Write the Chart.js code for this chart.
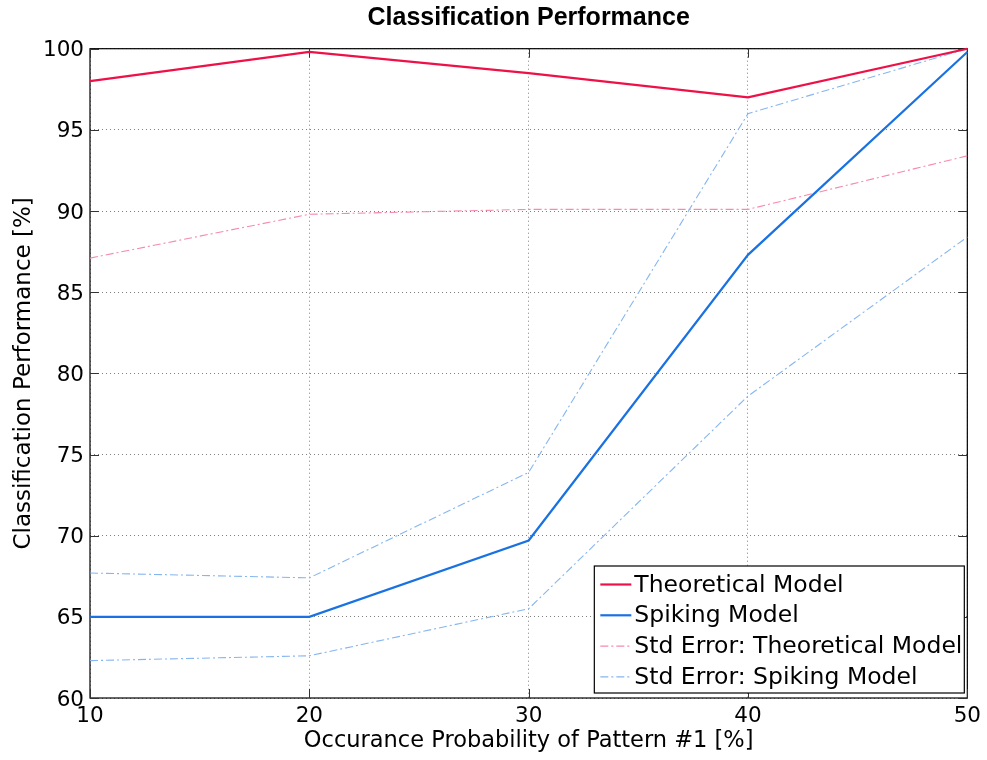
<!DOCTYPE html>
<html>
<head>
<meta charset="utf-8">
<script src="https://cdn.jsdelivr.net/npm/chart.js@4/dist/chart.umd.min.js"></script>
<style>
  html, body { margin: 0; padding: 0; background: #fff; }
  #wrap { width: 987px; height: 760px; position: relative; }
</style>
</head>
<body>
<div id="wrap"><canvas id="c" width="987" height="760"></canvas></div>
<script>
// ---- Data ----
const occurrence = [10, 20, 30, 40, 50];
const theoretical = [98.0, 99.8, 98.5, 97.0, 100.0];
const spiking = [65.0, 65.0, 69.7, 87.3, 99.8];
const stdErrTheoretical = [87.1, 89.8, 90.1, 90.1, 93.4];
const stdErrSpikingUpper = [67.7, 67.4, 73.9, 96.0, 100.0];
const stdErrSpikingLower = [62.3, 62.6, 65.5, 78.6, 88.4];
const xTicks = [10, 20, 30, 40, 50];
const yTicks = [60, 65, 70, 75, 80, 85, 90, 95, 100];

const seriesLabels = ['Theoretical Model', 'Spiking Model', 'Std Error: Theoretical Model', 'Std Error: Spiking Model'];

const RED = '#ee1148';
const BLUE = '#1a72e2';
const PINK = '#f58aab';
const LBLUE = '#86b6f0';
const DASHDOT = [8, 3, 2, 3];

function pts(ys) { return occurrence.map((x, i) => ({ x: x, y: ys[i] })); }

const datasets = [
  { label: seriesLabels[0], data: pts(theoretical), borderColor: RED, borderWidth: 2.2, inLegend: true },
  { label: seriesLabels[1], data: pts(spiking), borderColor: BLUE, borderWidth: 2.2, inLegend: true },
  { label: seriesLabels[2], data: pts(stdErrTheoretical), borderColor: PINK, borderWidth: 1.1, borderDash: DASHDOT, inLegend: true },
  { label: seriesLabels[3], data: pts(stdErrSpikingUpper), borderColor: LBLUE, borderWidth: 1.1, borderDash: DASHDOT, inLegend: true },
  { label: seriesLabels[3] + ' (lower)', data: pts(stdErrSpikingLower), borderColor: LBLUE, borderWidth: 1.1, borderDash: DASHDOT, inLegend: false }
].map(d => Object.assign({ pointRadius: 0, pointHoverRadius: 0, fill: false, tension: 0, clip: 4 }, d));

const FONT = "'DejaVu Sans', sans-serif";

const framePlugin = {
  id: 'frame',
  beforeDatasetsDraw(chart) {
    const { ctx, chartArea: a, scales } = chart;
    ctx.save();
    ctx.strokeStyle = '#000';
    ctx.lineWidth = 1.2;
    ctx.strokeRect(a.left, a.top, a.right - a.left, a.bottom - a.top);
    // inward tick marks on all four sides
    ctx.strokeStyle = '#333';
    ctx.lineWidth = 1;
    const L = 9;
    ctx.beginPath();
    xTicks.forEach(v => {
      const px = Math.round(scales.x.getPixelForValue(v)) + 0.5;
      ctx.moveTo(px, a.bottom); ctx.lineTo(px, a.bottom - L);
      ctx.moveTo(px, a.top); ctx.lineTo(px, a.top + L);
    });
    yTicks.forEach(v => {
      const py = Math.round(scales.y.getPixelForValue(v)) + 0.5;
      ctx.moveTo(a.left, py); ctx.lineTo(a.left + L, py);
      ctx.moveTo(a.right, py); ctx.lineTo(a.right - L, py);
    });
    ctx.stroke();
    ctx.restore();
  },
  afterDatasetsDraw(chart) {
    const { ctx, chartArea: a } = chart;
    const entries = chart.data.datasets.filter(d => d.inLegend);
    const boxW = 370, rowH = 30.8, boxH = 127;
    const bx = a.right - 3 - boxW, by = a.bottom - 5 - boxH;
    ctx.save();
    ctx.fillStyle = '#fff';
    ctx.fillRect(bx, by, boxW, boxH);
    ctx.strokeStyle = '#000';
    ctx.lineWidth = 1.2;
    ctx.strokeRect(bx, by, boxW, boxH);
    ctx.font = '23.5px ' + FONT;
    ctx.textBaseline = 'middle';
    ctx.textAlign = 'left';
    entries.forEach((d, i) => {
      const cy = by + 18.5 + i * rowH;
      ctx.beginPath();
      ctx.strokeStyle = d.borderColor;
      ctx.lineWidth = d.borderWidth;
      ctx.setLineDash(d.borderDash || []);
      ctx.moveTo(bx + 6, cy); ctx.lineTo(bx + 37, cy);
      ctx.stroke();
      ctx.setLineDash([]);
      ctx.fillStyle = '#000';
      ctx.fillText(d.label, bx + 40, cy + 1);
    });
    ctx.restore();
  }
};

new Chart(document.getElementById('c'), {
  type: 'line',
  data: { datasets: datasets },
  plugins: [framePlugin],
  options: {
    responsive: false,
    animation: false,
    events: [],
    layout: { padding: { left: 0, right: 19, top: 0, bottom: 0 } },
    plugins: {
      legend: { display: false },
      tooltip: { enabled: false },
      title: {
        display: true,
        text: 'Classification Performance',
        fullSize: false,
        color: '#000',
        font: { family: "'Liberation Sans', Arial, sans-serif", size: 25, weight: 'bold', lineHeight: 1.2 },
        padding: { top: 3.5, bottom: 15.2 }
      }
    },
    scales: {
      x: {
        type: 'linear',
        min: 10, max: 50,
        afterBuildTicks(scale) { scale.ticks = xTicks.map(v => ({ value: v })); },
        afterFit(scale) { scale.height = 62; },
        ticks: { color: '#000', font: { family: FONT, size: 21.5 }, padding: 6, maxRotation: 0, autoSkip: false },
        grid: { color: 'rgba(0,0,0,0.5)', lineWidth: 1, drawTicks: false },
        border: { display: false, dash: [1, 3] },
        title: { display: true, text: 'Occurance Probability of Pattern #1 [%]', color: '#000',
                 font: { family: FONT, size: 22.5, lineHeight: 1.2 }, padding: { top: 0, bottom: 5 } }
      },
      y: {
        type: 'linear',
        min: 60, max: 100,
        afterBuildTicks(scale) { scale.ticks = yTicks.map(v => ({ value: v })); },
        afterFit(scale) { scale.width = 90; },
        ticks: { color: '#000', font: { family: FONT, size: 21.5 }, padding: 6, labelOffset: 2, autoSkip: false },
        grid: { color: 'rgba(0,0,0,0.5)', lineWidth: 1, drawTicks: false },
        border: { display: false, dash: [1, 3] },
        title: { display: true, text: 'Classification Performance [%]', color: '#000',
                 font: { family: FONT, size: 23, lineHeight: 1.2 }, padding: { top: 10, bottom: 0 } }
      }
    }
  }
});
</script>
</body>
</html>
